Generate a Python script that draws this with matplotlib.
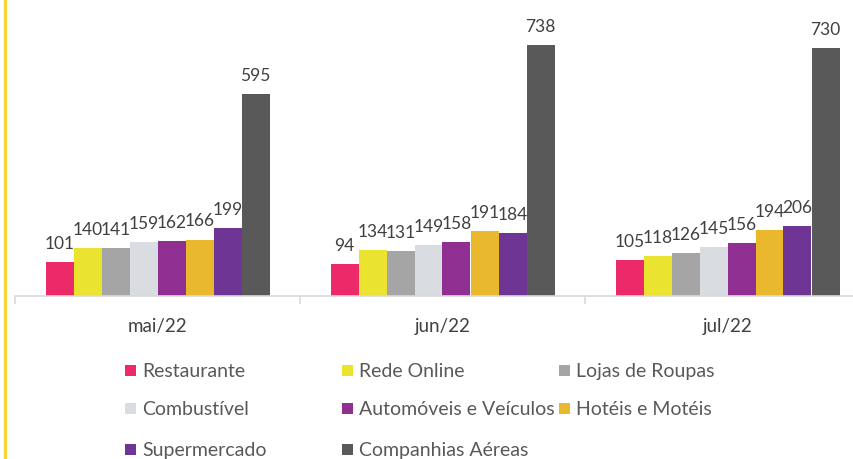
import numpy as np
import matplotlib.pyplot as plt
from matplotlib.lines import Line2D
from matplotlib.patches import Rectangle

plt.rcParams['font.family'] = ['Lato', 'DejaVu Sans']

# dados
meses = ['mai/22', 'jun/22', 'jul/22']
segmentos = ['Restaurante', 'Rede Online', 'Lojas de Roupas', 'Combustível',
             'Automóveis e Veículos', 'Hotéis e Motéis', 'Supermercado',
             'Companhias Aéreas']
restaurante = [101, 94, 105]
rede_online = [140, 134, 118]
lojas_roupas = [141, 131, 126]
combustivel = [159, 149, 145]
automoveis = [162, 158, 156]
hoteis = [166, 191, 194]
supermercado = [199, 184, 206]
cias_aereas = [595, 738, 730]

series = [restaurante, rede_online, lojas_roupas, combustivel,
          automoveis, hoteis, supermercado, cias_aereas]
cores = ['#EC2A6A', '#EAE431', '#A5A5A5', '#D9DCE0',
         '#8E2F91', '#EAB82C', '#6E3595', '#595959']

W, H = 854, 460
fig = plt.figure(figsize=(W / 100, H / 100), dpi=100)
ax = fig.add_axes([15 / W, 1 - 297 / H, (W - 15) / W, 297 / H])

x = np.arange(len(meses))
largura = 28 / 285  # largura de cada barra (fração da categoria)
n = len(series)
for i, (vals, cor) in enumerate(zip(series, cores)):
    pos = x - n * largura / 2 + largura * (i + 0.5)
    barras = ax.bar(pos, vals, width=largura, color=cor, edgecolor='none')
    for b, v in zip(barras, vals):
        ax.annotate(str(v), (b.get_x() + b.get_width() / 2, v),
                    xytext=(0, 8), textcoords='offset points',
                    ha='center', va='bottom', fontsize=12.5, color='#404040')

ax.set_yticks([])
for s in ['top', 'right', 'left']:
    ax.spines[s].set_visible(False)
ax.spines['bottom'].set_color('#D9D9D9')
ax.spines['bottom'].set_linewidth(1.2)

# ticks nas divisões das categorias
ax.set_xticks([-0.5, 0.5, 1.5, 2.5], minor=False)
ax.set_xticklabels([])
ax.tick_params(axis='x', which='major', length=6, color='#D9D9D9', width=1.2)
ax.set_xticks(x, minor=True)
ax.set_xticklabels(meses, minor=True, fontsize=13.5, color='#404040')
ax.tick_params(axis='x', which='minor', length=0, pad=15)

# limites depois dos ticks (set_xticks expande a vista)
ax.set_xlim(-0.5, 2.5 - 16 / 285)
ax.set_ylim(0, 874)

# legenda em 3 colunas, preenchida por linha
col_x = [125, 342, 559]
lin_y = [371.5, 409.5, 450.5]
for i, (nome, cor) in enumerate(zip(segmentos, cores)):
    cx = col_x[i % 3]
    cy = lin_y[i // 3]
    fig.add_artist(Rectangle((cx / W, 1 - (cy + 5.5) / H), 11 / W, 11 / H,
                             transform=fig.transFigure, color=cor, lw=0))
    fig.text((cx + 17) / W, 1 - cy / H, nome, fontsize=14, color='#595959',
             va='center', ha='left')

# linha amarela decorativa à esquerda
fig.add_artist(Line2D([5 / W, 5 / W], [0, 1], transform=fig.transFigure,
                      color='#F9D33A', lw=2.3))

fig.savefig('out.png', dpi=100)
